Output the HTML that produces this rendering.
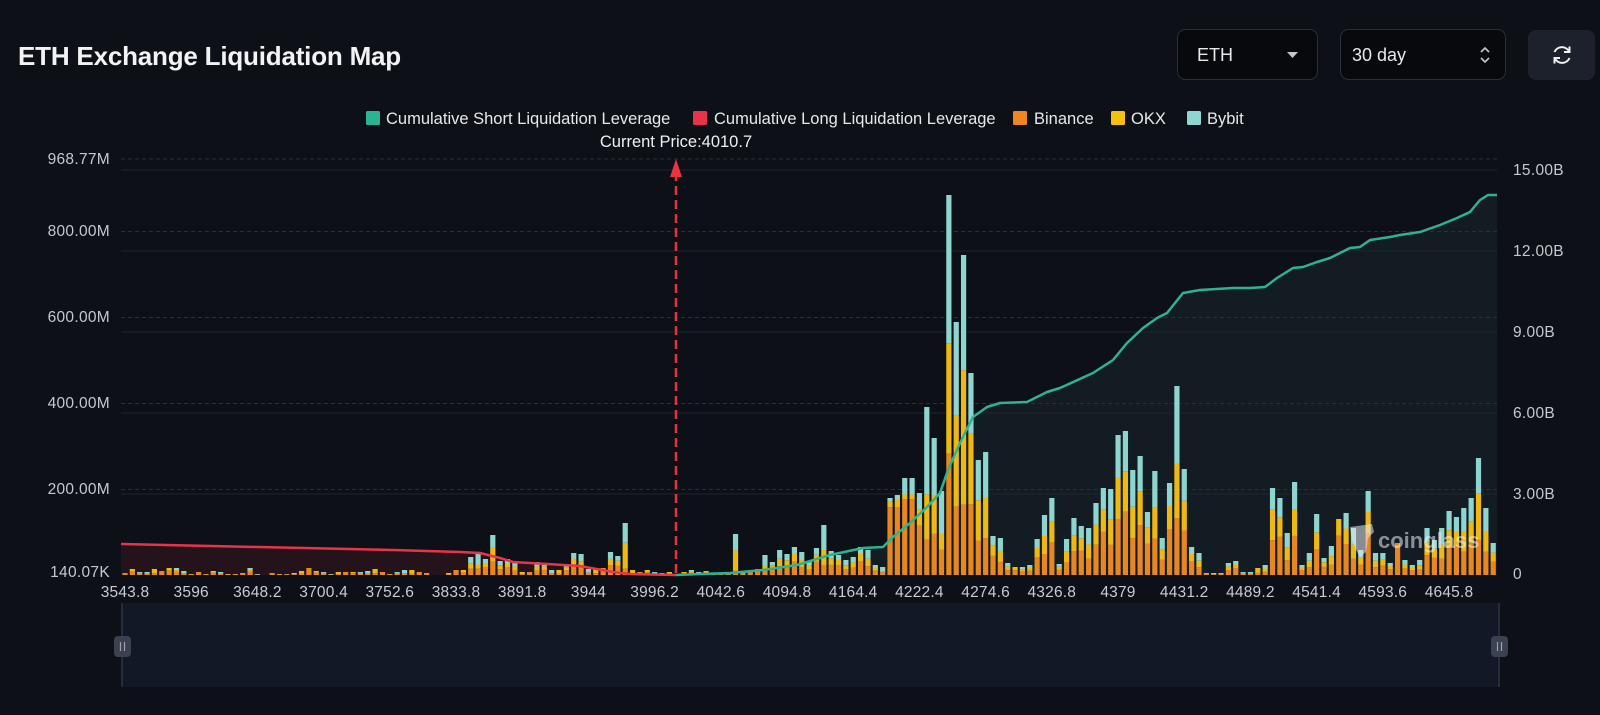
<!DOCTYPE html>
<html><head><meta charset="utf-8">
<style>
html,body{margin:0;padding:0;background:#0d1117;}
svg{display:block;}
text{font-family:"Liberation Sans",sans-serif;}
</style></head>
<body>
<svg id="c" width="1600" height="715" viewBox="0 0 1600 715" xmlns="http://www.w3.org/2000/svg">
<rect width="1600" height="715" fill="#0d1117"/>

<!-- Title -->
<text x="18" y="65" font-size="26" font-weight="bold" fill="#f2f3f5" letter-spacing="-0.2">ETH Exchange Liquidation Map</text>

<!-- Controls -->
<rect x="1177.5" y="29.5" width="140" height="50" rx="8" fill="#07090d" stroke="#2a2f39"/>
<text x="1197" y="61" font-size="18" fill="#e8e9eb">ETH</text>
<polygon points="1287,52 1298,52 1292.5,58" fill="#c4c7cc"/>
<rect x="1340.5" y="29.5" width="165" height="50" rx="8" fill="#07090d" stroke="#2a2f39"/>
<text x="1352" y="61" font-size="18" fill="#e8e9eb">30 day</text>
<polyline points="1481,52 1485,48 1489,52" fill="none" stroke="#c4c7cc" stroke-width="1.6"/>
<polyline points="1481,58 1485,62 1489,58" fill="none" stroke="#c4c7cc" stroke-width="1.6"/>
<rect x="1528" y="30" width="67" height="50" rx="8" fill="#1c212b"/>
<path d="M1554.5 52 A8 8 0 0 1 1569 51.5" stroke="#eef0f2" stroke-width="2" fill="none"/>
<polyline points="1569.5,46.5 1569.5,52 1564,52" fill="none" stroke="#eef0f2" stroke-width="2"/>
<path d="M1569.5 58 A8 8 0 0 1 1555 58.5" stroke="#eef0f2" stroke-width="2" fill="none"/>
<polyline points="1554.5,63.5 1554.5,58 1560,58" fill="none" stroke="#eef0f2" stroke-width="2"/>

<!-- Legend -->
<g font-size="16.5" fill="#e6e8eb">
<rect x="366" y="111" width="14" height="14" rx="1.5" fill="#2bb392"/>
<text x="386" y="124">Cumulative Short Liquidation Leverage</text>
<rect x="693" y="111" width="14" height="14" rx="1.5" fill="#e8344a"/>
<text x="714" y="124">Cumulative Long Liquidation Leverage</text>
<rect x="1013" y="111" width="14" height="14" rx="1.5" fill="#f0861c"/>
<text x="1034" y="124">Binance</text>
<rect x="1111" y="111" width="14" height="14" rx="1.5" fill="#f5c010"/>
<text x="1131" y="124">OKX</text>
<rect x="1187" y="111" width="14" height="14" rx="1.5" fill="#8fd6d2"/>
<text x="1207" y="124">Bybit</text>
</g>
<text x="676" y="147" font-size="16.5" fill="#eef0f2" text-anchor="middle">Current Price:4010.7</text>

<!-- Area fills -->
<polygon points="121,544 393,550 460,552 480,553 500,558 513,562 547,564 580,566 613,572 630,574 676,575 676,575 121,575" fill="rgba(200,40,60,0.13)"/>
<polygon points="676,575 700,574 730,573 763,570 797,565 830,555 863,548 883,547 893,537 910,523 927,507 940,493 948,470 960,443 973,417 987,407 1000,403 1027,402 1047,392 1060,388 1093,373 1113,360 1127,343 1143,328 1157,318 1167,313 1183,293 1200,290 1233,288 1250,288 1265,287 1277,278 1293,268 1303,267 1317,262 1330,258 1350,248 1360,247 1370,240 1390,237 1400,235 1420,232 1440,225 1457,218 1470,212 1480,200 1488,195 1497,195 1497,575" fill="rgba(90,165,170,0.08)"/>

<!-- Grid lines -->
<g stroke="#2a2f39" stroke-width="1" stroke-dasharray="4 3">
<line x1="121" y1="159" x2="1497" y2="159"/>
<line x1="121" y1="231.5" x2="1497" y2="231.5"/>
<line x1="121" y1="317.5" x2="1497" y2="317.5"/>
<line x1="121" y1="403.5" x2="1497" y2="403.5"/>
<line x1="121" y1="489.5" x2="1497" y2="489.5"/>
</g>
<g stroke="#1f242d" stroke-width="1">
<line x1="121" y1="170" x2="1497" y2="170"/>
<line x1="121" y1="251" x2="1497" y2="251"/>
<line x1="121" y1="332" x2="1497" y2="332"/>
<line x1="121" y1="413" x2="1497" y2="413"/>
<line x1="121" y1="494" x2="1497" y2="494"/>
</g>

<!-- Left axis labels -->
<g font-size="15.5" fill="#c5c8ce" text-anchor="end" letter-spacing="0.3">
<text x="110" y="164">968.77M</text>
<text x="110" y="236">800.00M</text>
<text x="110" y="322">600.00M</text>
<text x="110" y="408">400.00M</text>
<text x="110" y="494">200.00M</text>
<text x="110" y="577">140.07K</text>
</g>
<!-- Right axis labels -->
<g font-size="15.5" fill="#c5c8ce" letter-spacing="0.3">
<text x="1513" y="175">15.00B</text>
<text x="1513" y="256">12.00B</text>
<text x="1513" y="337">9.00B</text>
<text x="1513" y="418">6.00B</text>
<text x="1513" y="499">3.00B</text>
<text x="1513" y="579">0</text>
</g>

<!-- Bars -->
<g id="bars"></g>

<!-- Lines -->
<polyline points="121,544 393,550 460,552 480,553 500,558 513,562 547,564 580,566 613,572 630,574 676,575" fill="none" stroke="#e8344a" stroke-width="2.5" stroke-linejoin="round"/>
<polyline points="676,575 700,574 730,573 763,570 797,565 830,555 863,548 883,547 893,537 910,523 927,507 940,493 948,470 960,443 973,417 987,407 1000,403 1027,402 1047,392 1060,388 1093,373 1113,360 1127,343 1143,328 1157,318 1167,313 1183,293 1200,290 1233,288 1250,288 1265,287 1277,278 1293,268 1303,267 1317,262 1330,258 1350,248 1360,247 1370,240 1390,237 1400,235 1420,232 1440,225 1457,218 1470,212 1480,200 1488,195 1497,195" fill="none" stroke="#2db38f" stroke-width="2.5" stroke-linejoin="round"/>

<!-- Current price line -->
<line x1="676" y1="172" x2="676" y2="575" stroke="#e0343f" stroke-width="2.5" stroke-dasharray="9 5"/>
<polygon points="676,159 670,177 682,177" fill="#e8343f"/>

<!-- X axis labels -->
<g font-size="15.5" fill="#c8cbd1" text-anchor="middle" letter-spacing="0.2">
<text x="125" y="597">3543.8</text>
<text x="191.2" y="597">3596</text>
<text x="257.4" y="597">3648.2</text>
<text x="323.6" y="597">3700.4</text>
<text x="389.8" y="597">3752.6</text>
<text x="456" y="597">3833.8</text>
<text x="522.2" y="597">3891.8</text>
<text x="588.4" y="597">3944</text>
<text x="654.6" y="597">3996.2</text>
<text x="720.8" y="597">4042.6</text>
<text x="787" y="597">4094.8</text>
<text x="853.2" y="597">4164.4</text>
<text x="919.4" y="597">4222.4</text>
<text x="985.6" y="597">4274.6</text>
<text x="1051.8" y="597">4326.8</text>
<text x="1118" y="597">4379</text>
<text x="1184.2" y="597">4431.2</text>
<text x="1250.4" y="597">4489.2</text>
<text x="1316.6" y="597">4541.4</text>
<text x="1382.8" y="597">4593.6</text>
<text x="1449" y="597">4645.8</text>
</g>

<!-- Watermark -->
<g opacity="0.55">
<path d="M1350 527 L1372 524 L1374 532 L1368 538 L1366 552 L1360 557 L1356 550 L1352 540 Z" fill="#e8eaee"/>
<text x="1378" y="548" font-size="22" font-weight="bold" fill="#eef0f3">coinglass</text>
</g>

<!-- Slider -->
<rect x="121" y="603" width="1379" height="84" fill="#131827"/>
<line x1="122" y1="603" x2="122" y2="687" stroke="#252c3b" stroke-width="2"/>
<line x1="1499" y1="603" x2="1499" y2="687" stroke="#252c3b" stroke-width="2"/>
<rect x="114" y="636" width="17" height="21" rx="4" fill="#3a4150"/>
<line x1="120.5" y1="642" x2="120.5" y2="651" stroke="#9aa1ad" stroke-width="1.2"/>
<line x1="124.5" y1="642" x2="124.5" y2="651" stroke="#9aa1ad" stroke-width="1.2"/>
<rect x="1491" y="636" width="17" height="21" rx="4" fill="#3a4150"/>
<line x1="1497.5" y1="642" x2="1497.5" y2="651" stroke="#9aa1ad" stroke-width="1.2"/>
<line x1="1501.5" y1="642" x2="1501.5" y2="651" stroke="#9aa1ad" stroke-width="1.2"/>
</svg>
<script>
(function(){
var H=[2,6,3,3,6,4,7,7,4,1, 3,1,4,3,1,1,2,7,1,0, 2,1,1,2,4,7,4,3,1,3, 3,3,3,4,6,3,1,3,5,5, 3,2,0,0,2,5,5,
18,21,16,40,14,16,13,3,3,13,
12,5,5,11,22,21,6,6,7,23,
19,52,5,3,5,3,2,3,1,3,
5,3,4,2,2,1,41,4,3,6,
20,13,25,21,28,23,13,27,50,24,
20,15,18,28,25,10,8,77,80,97,
97,82,168,137,84,380,253,320,202,115,
123,39,37,12,8,8,10,36,60,77,
11,36,57,49,47,72,87,86,140,144,
105,119,63,104,37,92,189,106,28,22,
2,2,2,12,14,3,3,7,10,87,
77,42,93,10,22,61,17,29,56,62,
47,25,84,22,22,12,32,15,10,15,
47,35,47,64,58,67,77,117,67,32];
var ov={48:[.3,.2,.5],50:[.35,.35,.3],68:[.12,.5,.38],83:[.1,.5,.4],87:[.3,.2,.5],95:[.2,.3,.5],
104:[.88,.08,.04],105:[.85,.1,.05],106:[.78,.05,.17],107:[.78,.05,.17],108:[.6,.2,.2],
109:[.21,.27,.52],110:[.3,.28,.42],111:[.3,.2,.5],112:[.32,.29,.39],113:[.27,.36,.37],
114:[.22,.42,.36],115:[.35,.35,.3],116:[.3,.35,.35],117:[.3,.33,.37],135:[.4,.3,.3],
136:[.44,.28,.28],143:[.3,.29,.41],156:[.4,.35,.25],165:[.7,.3,0],173:[1,0,0],184:[.3,.4,.3]};
var small=[[1,0,0],[.6,.4,0],[.5,.2,.3],[.4,0,.6],[.3,.7,0]];
var mid=[[.42,.28,.30],[.5,.25,.25],[.35,.3,.35]];
var cols=['#e8861f','#efb914','#8ed4cf'];
var ns='http://www.w3.org/2000/svg';
var g=document.getElementById('bars');
for(var k=0;k<H.length;k++){
  var h=H[k]; if(!h) continue;
  var f=ov[k]; if(!f){ f = h<10 ? small[k%5] : mid[k%3]; }
  var cx=125+7.356*k, y=575;
  for(var i=0;i<3;i++){
    var s=h*f[i]; if(s<=0) continue;
    var r=document.createElementNS(ns,'rect');
    r.setAttribute('x',(cx-2.6).toFixed(2));
    r.setAttribute('width','5.2');
    r.setAttribute('y',(y-s).toFixed(2));
    r.setAttribute('height',s.toFixed(2));
    r.setAttribute('fill',cols[i]);
    g.appendChild(r);
    y-=s;
  }
}
})();
</script>
</body></html>
